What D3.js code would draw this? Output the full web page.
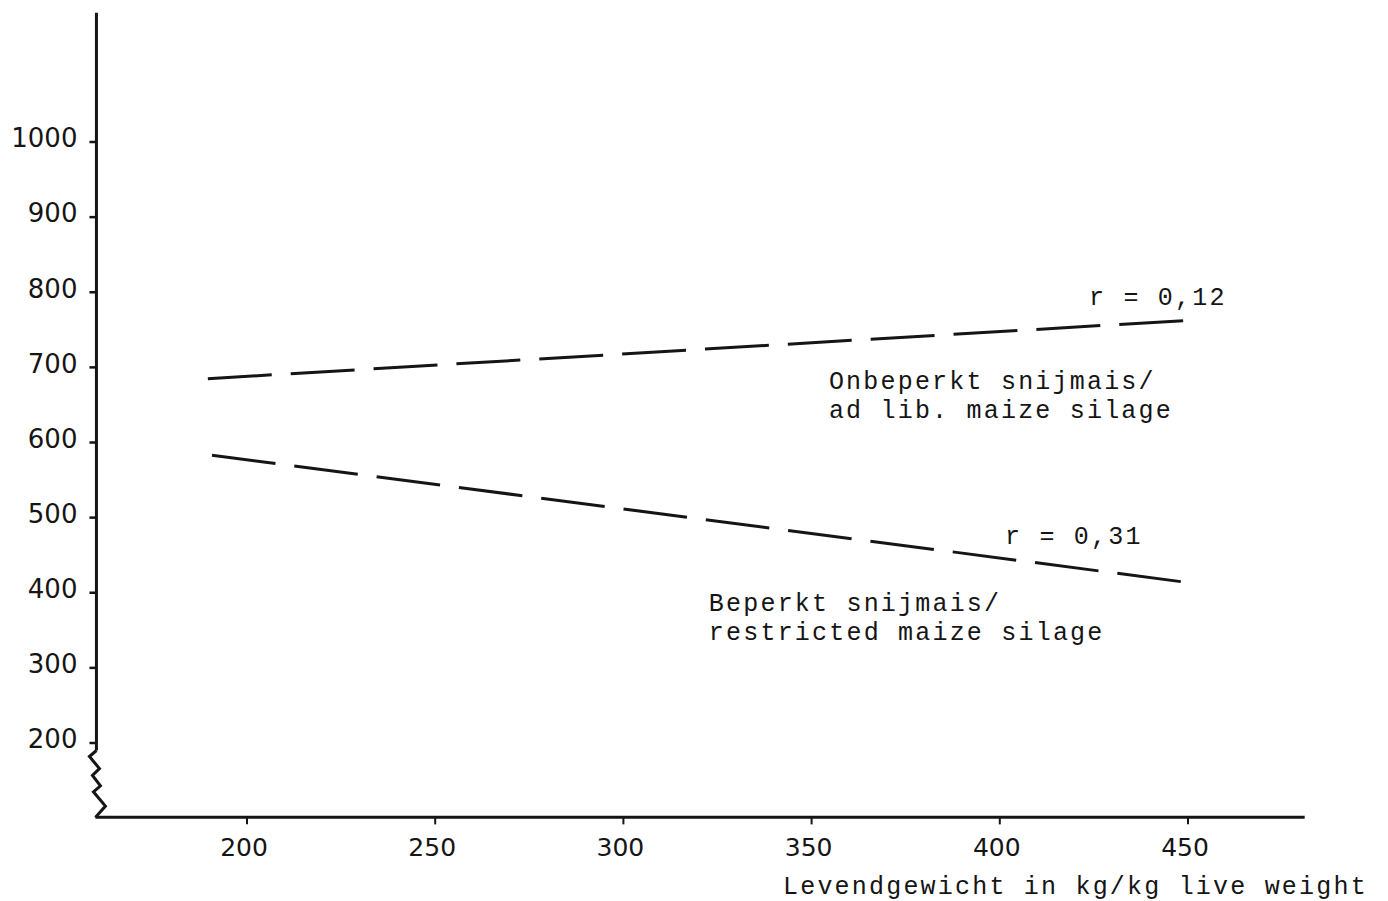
<!DOCTYPE html>
<html>
<head>
<meta charset="utf-8">
<script src="https://cdn.jsdelivr.net/npm/d3@7"></script>
<style>
  body { margin: 0; background: #fff; }
  svg { display: block; }
</style>
</head>
<body>
<script>
// Data (kg live weight vs. response)
const xTicks = [200, 250, 300, 350, 400, 450];
const yTicks = [200, 300, 400, 500, 600, 700, 800, 900, 1000];

const adLibLine = [
  { kg: 189.6, v: 685 },
  { kg: 451.5, v: 763 },
];
const restrictedLine = [
  { kg: 190.7, v: 583 },
  { kg: 452.4, v: 412 },
];

const labels = [
  { kg: 423.7, v: 783, text: "r = 0,12" },
  { kg: 354.6, v: 671, text: "Onbeperkt snijmais/" },
  { kg: 354.6, v: 633, text: "ad lib. maize silage" },
  { kg: 401.4, v: 465, text: "r = 0,31" },
  { kg: 322.7, v: 376, text: "Beperkt snijmais/" },
  { kg: 322.7, v: 337, text: "restricted maize silage" },
];

const xTitle = "Levendgewicht in kg/kg live weight";

const width = 1388, height = 901;
const ink = "#151515";
const typewriter = "'Liberation Mono', 'DejaVu Sans Mono', monospace";
const sans = "'DejaVu Sans', sans-serif";

const svg = d3.select("body").append("svg")
  .attr("width", width)
  .attr("height", height);

// Scales: fitted to the original tick positions
const x = d3.scaleLinear()
  .domain([200, 450])
  .range([247, 1188]);

const y = d3.scaleLinear()
  .domain([200, 1000])
  .range([743, 142]);

const x0 = x(160);
const xEnd = x(481);
const yBase = y(101);
const yTop = y(1172);

// Y axis line (broken at the bottom by a zigzag)
svg.append("path")
  .attr("d", `M${x0},${yTop}V${y(190)}`)
  .attr("stroke", ink)
  .attr("stroke-width", 3)
  .attr("fill", "none");

const zig = [[0, 190], [-7, 182], [3, 166], [-4, 157], [4, 143], [-3, 135], [9, 116], [-1, 101]];
svg.append("path")
  .attr("d", d3.line().x((d) => x0 + d[0]).y((d) => y(d[1]))(zig))
  .attr("stroke", ink)
  .attr("stroke-width", 3)
  .attr("stroke-linejoin", "miter")
  .attr("fill", "none");

// X axis line
svg.append("path")
  .attr("d", `M${x0 - 1},${yBase}H${xEnd}`)
  .attr("stroke", ink)
  .attr("stroke-width", 3)
  .attr("fill", "none");

// Y ticks + labels
const gy = svg.append("g");
gy.selectAll("line")
  .data(yTicks)
  .join("line")
  .attr("x1", x0 - 7)
  .attr("x2", x0)
  .attr("y1", (d) => y(d))
  .attr("y2", (d) => y(d))
  .attr("stroke", ink)
  .attr("stroke-width", 2.5);

gy.selectAll("text")
  .data(yTicks)
  .join("text")
  .attr("x", x0 - 19)
  .attr("y", (d) => y(d) - 4)
  .attr("dy", "0.36em")
  .attr("text-anchor", "end")
  .attr("fill", ink)
  .style("font-family", sans)
  .style("font-size", "26px")
  .text((d) => d);

// X ticks + labels
const gx = svg.append("g");
gx.selectAll("line")
  .data(xTicks)
  .join("line")
  .attr("x1", (d) => x(d))
  .attr("x2", (d) => x(d))
  .attr("y1", yBase)
  .attr("y2", yBase + 7)
  .attr("stroke", ink)
  .attr("stroke-width", 2);

gx.selectAll("text")
  .data(xTicks)
  .join("text")
  .attr("x", (d) => x(d) - 3)
  .attr("y", yBase + 39)
  .attr("text-anchor", "middle")
  .attr("fill", ink)
  .style("font-family", sans)
  .style("font-size", "25px")
  .text((d) => d);

// X axis title
svg.append("text")
  .attr("x", 783)
  .attr("y", yBase + 77)
  .attr("fill", ink)
  .style("font-family", typewriter)
  .style("font-size", "25px")
  .style("letter-spacing", "2.2px")
  .text(xTitle);

// Regression lines (dashed)
const line = d3.line()
  .x((d) => x(d.kg))
  .y((d) => y(d.v));

[adLibLine, restrictedLine].forEach((series) => {
  svg.append("path")
    .datum(series)
    .attr("d", line)
    .attr("fill", "none")
    .attr("stroke", ink)
    .attr("stroke-width", 3)
    .attr("stroke-dasharray", "64,19");
});

// Annotations
svg.append("g")
  .selectAll("text")
  .data(labels)
  .join("text")
  .attr("x", (d) => x(d.kg))
  .attr("y", (d) => y(d.v))
  .attr("fill", ink)
  .style("font-family", typewriter)
  .style("font-size", "25px")
  .style("letter-spacing", "2.2px")
  .text((d) => d.text);
</script>
</body>
</html>
